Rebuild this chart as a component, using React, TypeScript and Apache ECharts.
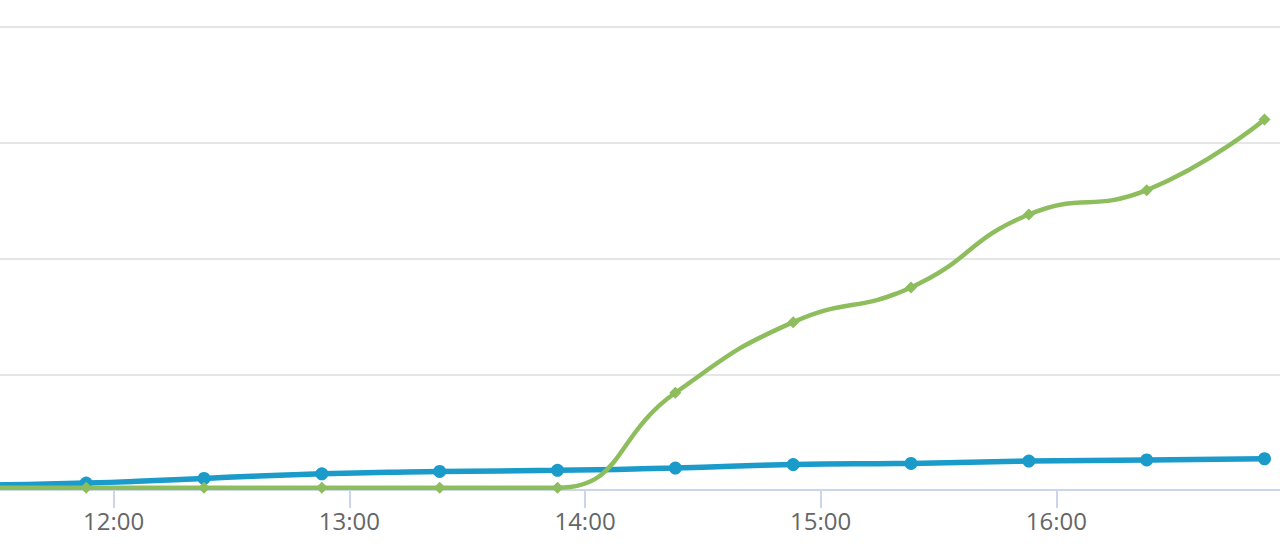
import React, { useEffect, useRef } from "react";
import * as echarts from "echarts";

const times = ["11:23", "11:53", "12:23", "12:53", "13:23", "13:53", "14:23", "14:53", "15:23", "15:53", "16:23", "16:53"];
const blueValues = [4, 6, 10, 14, 16, 17, 19, 22, 23, 25, 26, 27];
const greenValues = [2, 2, 2, 2, 2, 2, 84, 145, 175, 238, 259, 320];
const hourTicks = ["11:00", "12:00", "13:00", "14:00", "15:00", "16:00", "17:00"];

const toMin = (t: string) => {
  const [h, m] = t.split(":").map(Number);
  return h * 60 + m;
};
const fmt = (v: number) => {
  const h = Math.floor(v / 60);
  const m = Math.round(v % 60);
  return `${h}:${m < 10 ? "0" + m : m}`;
};

export default function App() {
  const ref = useRef<HTMLDivElement>(null);
  useEffect(() => {
    if (!ref.current) return;
    const chart = echarts.init(ref.current, undefined, { renderer: "svg" });
    const xMin = toMin(hourTicks[0]);
    const xMax = toMin(hourTicks[hourTicks.length - 1]);
    chart.setOption({
      animation: false,
      backgroundColor: "#ffffff",
      grid: { left: 0, right: 0, top: 27, bottom: 56, containLabel: false, outerBoundsMode: "none" },
      xAxis: {
        type: "value",
        min: xMin,
        max: xMax,
        interval: 60,
        axisLine: { show: true, lineStyle: { color: "#ccd6eb", width: 2 } },
        axisTick: { show: true, length: 18, lineStyle: { color: "#ccd6eb", width: 2 } },
        splitLine: { show: false },
        axisLabel: {
          formatter: (v: number) => fmt(v),
          color: "#666666",
          fontSize: 24,
          fontFamily: "Open Sans",
          margin: 18,
          showMinLabel: false,
          showMaxLabel: false,
        },
      },
      yAxis: {
        type: "value",
        min: 0,
        max: 400,
        interval: 100,
        axisLine: { show: false },
        axisTick: { show: false },
        axisLabel: { show: false },
        splitLine: { show: true, lineStyle: { color: "#e6e6e6", width: 2 } },
      },
      series: [
        {
          type: "line",
          smooth: true,
          data: times.map((t, i) => [toMin(t), blueValues[i]]),
          symbol: "circle",
          symbolSize: 13,
          itemStyle: { color: "#1b9bca" },
          lineStyle: { color: "#1b9bca", width: 5.5 },
          z: 2,
        },
        {
          type: "line",
          smooth: true,
          data: times.map((t, i) => [toMin(t), greenValues[i]]),
          symbol: "diamond",
          symbolSize: 12,
          itemStyle: { color: "#8dbd5c" },
          lineStyle: { color: "#8dbd5c", width: 4.5 },
          z: 3,
        },
      ],
    });
    return () => chart.dispose();
  }, []);
  return (
    <div
      ref={ref}
      style={{ position: "fixed", left: -122, top: 0, width: 1414, height: 546 }}
    />
  );
}
